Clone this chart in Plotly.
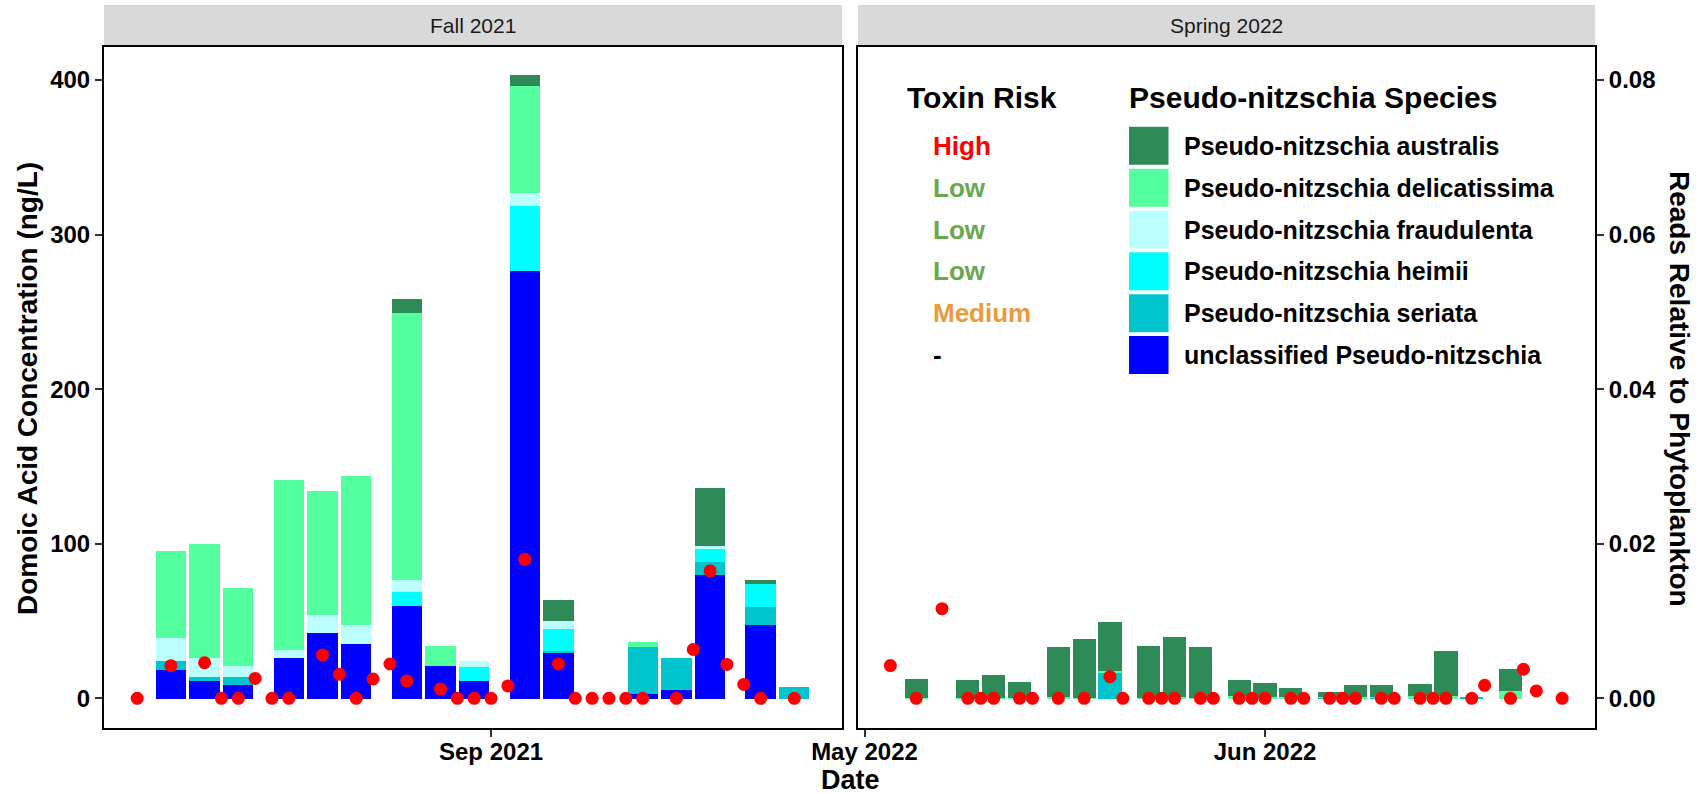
import plotly.graph_objects as go

# ---------------- data ----------------
species = [
    "Pseudo-nitzschia australis",
    "Pseudo-nitzschia delicatissima",
    "Pseudo-nitzschia fraudulenta",
    "Pseudo-nitzschia heimii",
    "Pseudo-nitzschia seriata",
    "unclassified Pseudo-nitzschia",
]
species_colors = ["#2E8B57", "#54FF9F", "#BBFFFF", "#00FFFF", "#00C5CD", "#0000FF"]
toxin_risk = ["High", "Low", "Low", "Low", "Medium", "-"]
risk_colors = {"High": "#FF0000", "Low": "#6AA84F", "Medium": "#EC9A3C", "-": "#000000"}

facet_labels = ["Fall 2021", "Spring 2022"]

# Fall 2021 sequencing dates (reads relative to phytoplankton)
fall_bar_dates = ["2021-08-13", "2021-08-15", "2021-08-17", "2021-08-20", "2021-08-22",
                  "2021-08-24", "2021-08-27", "2021-08-29", "2021-08-31", "2021-09-03",
                  "2021-09-05", "2021-09-10", "2021-09-12", "2021-09-14", "2021-09-17",
                  "2021-09-19"]
fall_australis = [0, 0, 0, 0, 0, 0, 0.00176, 0, 0, 0.00144, 0.00268, 0, 0, 0.00754, 0.00052, 0]
fall_delicatissima = [0.01132, 0.01474, 0.01002, 0.02194, 0.01604, 0.01932, 0.0346, 0.0025,
                      0, 0.01384, 0, 0.00066, 0, 0, 0, 0]
fall_fraudulenta = [0.00288, 0.0025, 0.0015, 0.00102, 0.00232, 0.00248, 0.0016, 0, 0.00086,
                    0.0016, 0.00106, 0, 0, 0.00042, 0, 0]
fall_heimii = [0, 0, 0, 0, 0, 0, 0.00176, 0, 0.00172, 0.00844, 0.0028, 0, 0, 0.00164, 0.00302, 0]
fall_seriata = [0.0012, 0.00044, 0.00096, 0, 0, 0, 0, 0, 0, 0, 0.0003, 0.00602, 0.00416,
                0.00172, 0.00228, 0.0015]
fall_unclassified = [0.00374, 0.00236, 0.00184, 0.0053, 0.00852, 0.00706, 0.012, 0.0043,
                     0.00236, 0.05536, 0.00594, 0.00064, 0.00108, 0.016, 0.00954, 0]

# Spring 2022 sequencing dates
spring_bar_dates = ["2022-05-05", "2022-05-09", "2022-05-11", "2022-05-13", "2022-05-16",
                    "2022-05-18", "2022-05-20", "2022-05-23", "2022-05-25", "2022-05-27",
                    "2022-05-30", "2022-06-01", "2022-06-03", "2022-06-06", "2022-06-08",
                    "2022-06-10", "2022-06-13", "2022-06-15", "2022-06-17", "2022-06-20"]
spring_australis = [0.00248, 0.0023, 0.00294, 0.00216, 0.00646, 0.00758, 0.00632, 0.00664,
                    0.0078, 0.00654, 0.0021, 0.00174, 0.00114, 0.0006, 0.00154, 0.00156,
                    0.00158, 0.00574, 0, 0.00284]
spring_delicatissima = [0.00008, 0.00008, 0.00008, 0.00008, 0.0002, 0.00016, 0.0003, 0.00016,
                        0.00024, 0.00012, 0.0004, 0.0003, 0.0002, 0.00014, 0.0002, 0.0001,
                        0.0004, 0.0004, 0, 0.00096]
spring_fraudulenta = [0] * 20
spring_heimii = [0] * 20
spring_seriata = [0, 0, 0, 0, 0, 0, 0.00334, 0, 0, 0, 0, 0, 0, 0.00016, 0, 0.00016, 0, 0,
                  0.0002, 0]
spring_unclassified = [0] * 20

# Domoic acid concentration (ng/L)
fall_da_dates = ["2021-08-11", "2021-08-13", "2021-08-15", "2021-08-16", "2021-08-17",
                 "2021-08-18", "2021-08-19", "2021-08-20", "2021-08-22", "2021-08-23",
                 "2021-08-24", "2021-08-25", "2021-08-26", "2021-08-27", "2021-08-29",
                 "2021-08-30", "2021-08-31", "2021-09-01", "2021-09-02", "2021-09-03",
                 "2021-09-05", "2021-09-06", "2021-09-07", "2021-09-08", "2021-09-09",
                 "2021-09-10", "2021-09-12", "2021-09-13", "2021-09-14", "2021-09-15",
                 "2021-09-16", "2021-09-17", "2021-09-19"]
fall_da = [0, 21.1, 23.0, 0, 0, 12.9, 0, 0, 28.0, 15.5, 0, 12.5, 22.2, 11.2, 6.0, 0, 0, 0,
           8.0, 89.9, 22.2, 0, 0, 0, 0, 0, 0, 31.6, 82.4, 21.9, 9.0, 0, 0]

spring_da_dates = ["2022-05-03", "2022-05-05", "2022-05-07", "2022-05-09", "2022-05-10",
                   "2022-05-11", "2022-05-13", "2022-05-14", "2022-05-16", "2022-05-18",
                   "2022-05-20", "2022-05-21", "2022-05-23", "2022-05-24", "2022-05-25",
                   "2022-05-27", "2022-05-28", "2022-05-30", "2022-05-31", "2022-06-01",
                   "2022-06-03", "2022-06-04", "2022-06-06", "2022-06-07", "2022-06-08",
                   "2022-06-10", "2022-06-11", "2022-06-13", "2022-06-14", "2022-06-15",
                   "2022-06-17", "2022-06-18", "2022-06-20", "2022-06-21", "2022-06-22",
                   "2022-06-24"]
spring_da = [21.2, 0, 58.0, 0, 0, 0, 0, 0, 0, 0, 14.0, 0, 0, 0, 0, 0, 0, 0, 0, 0, 0, 0, 0,
             0, 0, 0, 0, 0, 0, 0, 0, 8.4, 0, 18.8, 4.8, 0]

da_ticks = [0, 100, 200, 300, 400]
reads_ticks = [0, 0.02, 0.04, 0.06, 0.08]
SEC_FACTOR = 5000  # DA (ng/L) = reads * 5000

fall_series = [fall_australis, fall_delicatissima, fall_fraudulenta, fall_heimii,
               fall_seriata, fall_unclassified]
spring_series = [spring_australis, spring_delicatissima, spring_fraudulenta, spring_heimii,
                 spring_seriata, spring_unclassified]

# ---------------- layout helpers ----------------
W, H = 1705, 794
FONT = "Liberation Sans, Arial, Helvetica, sans-serif"


def px(x):
    return x / W


def py(y):
    return (H - y) / H


BAR_W = 1.8 * 86400000  # 1.8 days in ms

da_range = [-19.2, 421.7]
reads_range = [v / SEC_FACTOR for v in da_range]

fig = go.Figure()

# stacked bars (bottom = unclassified)
for i in reversed(range(len(species))):
    fig.add_trace(go.Bar(x=fall_bar_dates, y=fall_series[i], xaxis="x", yaxis="y",
                         marker=dict(color=species_colors[i], line=dict(width=0)),
                         width=BAR_W, name=species[i], showlegend=False))
    fig.add_trace(go.Bar(x=spring_bar_dates, y=spring_series[i], xaxis="x2", yaxis="y2",
                         marker=dict(color=species_colors[i], line=dict(width=0)),
                         width=BAR_W, name=species[i], showlegend=False))

# domoic acid points
fig.add_trace(go.Scatter(x=fall_da_dates, y=fall_da, mode="markers", xaxis="x", yaxis="y3",
                         marker=dict(color="#FF0000", size=13, line=dict(width=0)),
                         showlegend=False))
fig.add_trace(go.Scatter(x=spring_da_dates, y=spring_da, mode="markers", xaxis="x2", yaxis="y4",
                         marker=dict(color="#FF0000", size=13, line=dict(width=0)),
                         showlegend=False))

panel_top, panel_bot = 46.5, 728
strip_top = 5
ydom = [py(panel_bot), py(panel_top)]
left_dom = [px(104), px(842)]
right_dom = [px(858), px(1595)]

axis_common = dict(showgrid=False, zeroline=False, showline=True, linecolor="black",
                   linewidth=2, mirror=True, ticks="outside", ticklen=7, tickwidth=1.5,
                   tickcolor="#333333", automargin=False,
                   tickfont=dict(family=FONT, size=24, color="black", weight="bold"))

fig.update_layout(
    width=W, height=H,
    margin=dict(l=0, r=0, t=0, b=0, autoexpand=False),
    paper_bgcolor="white", plot_bgcolor="white",
    barmode="stack", bargap=0,
    xaxis=dict(type="date", domain=left_dom, anchor="y",
               range=["2021-08-09 00:43", "2021-09-21 19:55"],
               tickvals=["2021-09-01"], ticktext=["Sep 2021"], ticklabelstandoff=-6,
               **axis_common),
    xaxis2=dict(type="date", domain=right_dom, anchor="y2",
                range=["2022-04-30 11:56", "2022-06-26 13:00"],
                tickvals=["2022-05-01", "2022-06-01"], ticktext=["May 2022", "Jun 2022"],
                ticklabelstandoff=-6, **axis_common),
    yaxis=dict(domain=ydom, anchor="x", range=reads_range, visible=False, automargin=False),
    yaxis3=dict(overlaying="y", side="left", anchor="x", range=da_range,
                tickvals=da_ticks, ticktext=[str(v) for v in da_ticks],
                ticklabelstandoff=0, **axis_common),
    yaxis2=dict(domain=ydom, anchor="x2", side="right", range=reads_range,
                tickvals=reads_ticks, ticktext=["%.2f" % v for v in reads_ticks],
                ticklabelstandoff=0, **axis_common),
    yaxis4=dict(overlaying="y2", anchor="x2", range=da_range, visible=False, automargin=False),
)

shapes = []
annotations = []

# facet strips
for dom, label in zip([left_dom, right_dom], facet_labels):
    shapes.append(dict(type="rect", xref="paper", yref="paper", x0=dom[0], x1=dom[1],
                       y0=py(45), y1=py(strip_top), fillcolor="#D9D9D9", line=dict(width=0),
                       layer="below"))
    annotations.append(dict(xref="paper", yref="paper", x=(dom[0] + dom[1]) / 2, y=py(25.5),
                            text=label, showarrow=False, xanchor="center", yanchor="middle",
                            font=dict(family=FONT, size=21, color="#1A1A1A")))

# axis titles
mid_title = py(389)
annotations.append(dict(xref="paper", yref="paper", x=px(27), y=mid_title, textangle=-90,
                        text="Domoic Acid Concentration (ng/L)", showarrow=False,
                        xanchor="center", yanchor="middle",
                        font=dict(family=FONT, size=28, color="black", weight="bold")))
annotations.append(dict(xref="paper", yref="paper", x=px(1680), y=mid_title, textangle=90,
                        text="Reads Relative to Phytoplankton", showarrow=False,
                        xanchor="center", yanchor="middle",
                        font=dict(family=FONT, size=28, color="black", weight="bold")))
annotations.append(dict(xref="paper", yref="paper", x=px(850), y=py(780), text="Date",
                        showarrow=False, xanchor="center", yanchor="middle",
                        font=dict(family=FONT, size=27, color="black", weight="bold")))

# legend (drawn inside the right panel)
annotations.append(dict(xref="paper", yref="paper", x=px(905), y=py(97.5), text="Toxin Risk",
                        showarrow=False, xanchor="left", yanchor="middle",
                        font=dict(family=FONT, size=30, color="black", weight="bold")))
annotations.append(dict(xref="paper", yref="paper", x=px(1127), y=py(97.5),
                        text="Pseudo-nitzschia Species", showarrow=False, xanchor="left",
                        yanchor="middle",
                        font=dict(family=FONT, size=30, color="black", weight="bold")))
row0, pitch = 145.8, 41.85
for i, (sp, col, risk) in enumerate(zip(species, species_colors, toxin_risk)):
    cy = row0 + i * pitch
    shapes.append(dict(type="rect", xref="paper", yref="paper", x0=px(1129), x1=px(1168.5),
                       y0=py(cy + 19), y1=py(cy - 19), fillcolor=col, line=dict(width=0)))
    annotations.append(dict(xref="paper", yref="paper", x=px(1182), y=py(cy), text=sp,
                            showarrow=False, xanchor="left", yanchor="middle",
                            font=dict(family=FONT, size=25, color="black", weight="bold")))
    annotations.append(dict(xref="paper", yref="paper", x=px(931), y=py(cy), text=risk,
                            showarrow=False, xanchor="left", yanchor="middle",
                            font=dict(family=FONT, size=26, color=risk_colors[risk],
                                      weight="bold")))

fig.update_layout(shapes=shapes, annotations=annotations)

fig.write_html("out.html")
